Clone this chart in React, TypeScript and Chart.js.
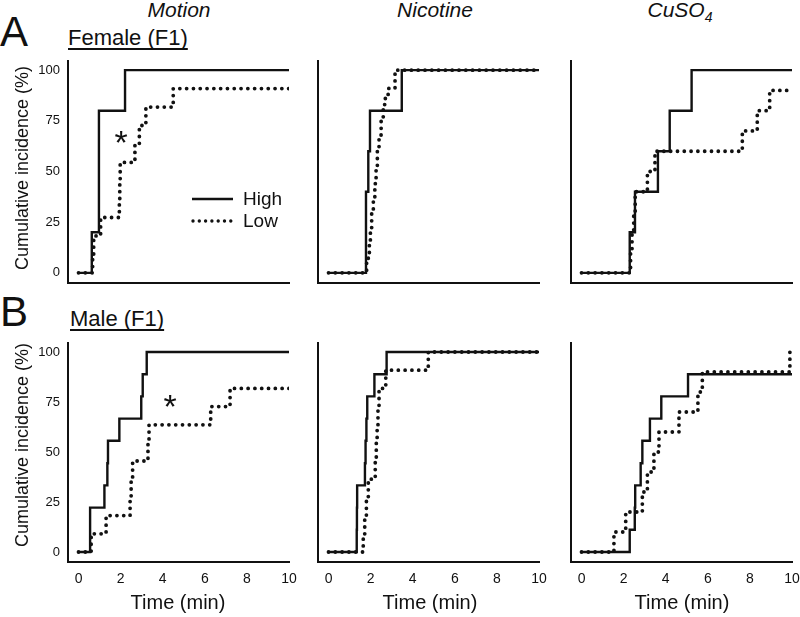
import React, { useEffect, useRef } from "react";
import { Chart, registerables } from "chart.js";

Chart.register(...registerables);

// ---------- data (time in min, cumulative incidence in %) ----------
const xTickValues = [0, 2, 4, 6, 8, 10];
const yTickValues = [0, 25, 50, 75, 100];
const columnTitles = ["Motion", "Nicotine", "CuSO"];
const rowTitles = ["Female (F1)", "Male (F1)"];
const rowLetters = ["A", "B"];
const seriesNames = ["High", "Low"];
const yTitle = "Cumulative incidence (%)";
const xTitle = "Time (min)";

// Female, Motion
const fMotionHighT = [0, 0.63, 0.97, 2.21, 10];
const fMotionHighV = [0, 20, 80, 100, 100];
const fMotionLowT = [0, 0.67, 0.72, 1.05, 1.94, 1.96, 1.98, 2.68, 2.89, 3.2, 4.5, 10];
const fMotionLowV = [0, 9.1, 18.2, 27.3, 36.4, 45.5, 54.5, 63.6, 72.7, 81.8, 90.9, 90.9];

// Female, Nicotine
const fNicHighT = [0, 1.78, 1.89, 1.97, 3.48, 10];
const fNicHighV = [0, 40, 60, 80, 100, 100];
const fNicLowT = [0, 1.81, 1.89, 1.94, 1.99, 2.05, 2.13, 2.2, 2.26, 2.32, 2.4, 2.5, 2.6, 2.7, 2.84, 3.16, 10];
const fNicLowV = [0, 5, 10, 16, 22, 30, 36, 44, 52, 60, 68, 75, 83, 88, 91, 100, 100];

// Female, CuSO4
const fCuHighT = [0, 2.29, 2.54, 3.63, 4.19, 5.23, 10];
const fCuHighV = [0, 20, 40, 60, 80, 100, 100];
const fCuLowT = [0, 2.33, 2.4, 2.48, 2.55, 3.13, 3.49, 7.64, 8.35, 8.94, 10];
const fCuLowV = [0, 10, 20, 30, 40, 50, 60, 70, 80, 90, 90];

// Male, Motion
const mMotionHighT = [0, 0.55, 1.23, 1.37, 1.4, 1.94, 2.98, 3.05, 3.24, 10];
const mMotionHighV = [0, 22.2, 33.3, 44.4, 55.6, 66.7, 77.8, 88.9, 100, 100];
const mMotionLowT = [0, 0.6, 1.31, 2.45, 2.5, 2.57, 3.3, 3.35, 6.28, 7.2, 10];
const mMotionLowV = [0, 9.1, 18.2, 27.3, 36.4, 45.5, 54.5, 63.6, 72.7, 81.8, 81.8];

// Male, Nicotine
const mNicHighT = [0, 1.34, 1.35, 1.36, 1.73, 1.76, 1.8, 1.84, 2.18, 2.76, 10];
const mNicHighV = [0, 11.1, 22.2, 33.3, 44.4, 55.6, 66.7, 77.8, 88.9, 100, 100];
const mNicLowT = [0, 1.65, 1.72, 1.8, 1.89, 2.22, 2.27, 2.31, 2.35, 2.4, 2.72, 4.74, 10];
const mNicLowV = [0, 9.1, 18.2, 27.3, 36.4, 45.5, 54.5, 63.6, 72.7, 81.8, 90.9, 100, 100];

// Male, CuSO4
const mCuHighT = [0, 2.29, 2.53, 2.55, 2.81, 2.89, 3.25, 3.79, 5.06, 10];
const mCuHighV = [0, 11.1, 22.2, 33.3, 44.4, 55.6, 66.7, 77.8, 88.9, 88.9];
const mCuLowT = [0, 1.54, 2.1, 2.89, 3.13, 3.44, 3.68, 4.63, 5.53, 5.74, 9.9];
const mCuLowV = [0, 10, 20, 30, 40, 50, 60, 70, 80, 90, 100];

const FONT = "'Liberation Sans', Arial, Helvetica, sans-serif";
const INK = "#111";

type PanelDef = {
  col: number;
  row: number;
  highT: number[];
  highV: number[];
  lowT: number[];
  lowV: number[];
};

const panels: PanelDef[] = [
  { col: 0, row: 0, highT: fMotionHighT, highV: fMotionHighV, lowT: fMotionLowT, lowV: fMotionLowV },
  { col: 1, row: 0, highT: fNicHighT, highV: fNicHighV, lowT: fNicLowT, lowV: fNicLowV },
  { col: 2, row: 0, highT: fCuHighT, highV: fCuHighV, lowT: fCuLowT, lowV: fCuLowV },
  { col: 0, row: 1, highT: mMotionHighT, highV: mMotionHighV, lowT: mMotionLowT, lowV: mMotionLowV },
  { col: 1, row: 1, highT: mNicHighT, highV: mNicHighV, lowT: mNicLowT, lowV: mNicLowV },
  { col: 2, row: 1, highT: mCuHighT, highV: mCuHighV, lowT: mCuLowT, lowV: mCuLowV },
];

// layout (pixels)
const colLeft = [68, 318, 571];
const plotW = 221;
const rowTop = [60, 342];
const rowH = [223, 220];
const Y_AXIS_W = 40;
const PAD_R = 16;

function toPoints(ts: number[], vs: number[]) {
  return ts.map((t, i) => ({ x: t, y: vs[i] }));
}

function Panel({ def }: { def: PanelDef }) {
  const ref = useRef<HTMLCanvasElement>(null);
  const showX = def.row === 1;
  const showY = def.col === 0;
  const xH = showX ? 36 : 4;
  const w = Y_AXIS_W + plotW + PAD_R;
  const h = rowH[def.row] + xH;

  useEffect(() => {
    if (!ref.current) return;
    const chart = new Chart(ref.current, {
      type: "line",
      data: {
        datasets: [
          {
            label: seriesNames[1],
            data: toPoints(def.lowT, def.lowV),
            stepped: "before",
            borderColor: INK,
            borderWidth: 3.8,
            borderDash: [0, 6.8],
            borderCapStyle: "round",
            pointRadius: 0,
            fill: false,
          },
          {
            label: seriesNames[0],
            data: toPoints(def.highT, def.highV),
            stepped: "before",
            borderColor: INK,
            borderWidth: 2.4,
            pointRadius: 0,
            fill: false,
          },
        ],
      },
      options: {
        responsive: false,
        maintainAspectRatio: false,
        animation: false,
        layout: { padding: { top: 0, left: 0, right: PAD_R, bottom: 0 } },
        plugins: { legend: { display: false }, tooltip: { enabled: false } },
        scales: {
          x: {
            type: "linear",
            min: -0.5,
            max: 10,
            grid: { display: false, drawTicks: false },
            border: { display: true, color: INK, width: 2 },
            ticks: {
              display: showX,
              color: INK,
              padding: 9,
              maxRotation: 0,
              font: { family: FONT, size: 14 },
            },
            afterBuildTicks: (s: any) => {
              s.ticks = xTickValues.map((v) => ({ value: v }));
            },
            afterFit: (s: any) => {
              s.height = xH;
              s.paddingLeft = 0;
              s.paddingRight = 0;
            },
          },
          y: {
            type: "linear",
            min: -5,
            max: 105,
            grid: { display: false, drawTicks: false },
            border: { display: true, color: INK, width: 2 },
            ticks: {
              display: showY,
              color: INK,
              padding: 8,
              font: { family: FONT, size: 13 },
            },
            afterBuildTicks: (s: any) => {
              s.ticks = yTickValues.map((v) => ({ value: v }));
            },
            afterFit: (s: any) => {
              s.width = Y_AXIS_W;
              s.paddingTop = 0;
              s.paddingBottom = 0;
            },
          },
        },
      },
    } as any);
    return () => chart.destroy();
  }, []);

  return (
    <canvas
      ref={ref}
      width={w}
      height={h}
      style={{
        position: "absolute",
        left: colLeft[def.col] - Y_AXIS_W,
        top: rowTop[def.row],
        width: w,
        height: h,
      }}
    />
  );
}

function Txt(props: {
  x: number;
  baseline: number;
  size: number;
  center?: boolean;
  italic?: boolean;
  underline?: boolean;
  children: React.ReactNode;
}) {
  const { x, baseline, size, center, italic, underline, children } = props;
  return (
    <div
      style={{
        position: "absolute",
        left: x,
        top: baseline - 0.8465 * size,
        fontSize: size,
        lineHeight: 1,
        whiteSpace: "nowrap",
        fontStyle: italic ? "italic" : "normal",
        textDecoration: underline ? "underline" : "none",
        textDecorationThickness: underline ? 2 : undefined,
        textUnderlineOffset: underline ? 3 : undefined,
        textDecorationSkipInk: "none",
        transform: center ? "translateX(-50%)" : undefined,
      } as any}
    >
      {children}
    </div>
  );
}

function YTitle({ cy }: { cy: number }) {
  return (
    <div
      style={{
        position: "absolute",
        left: 21.5,
        top: cy,
        fontSize: 18,
        lineHeight: 1,
        whiteSpace: "nowrap",
        transform: "translate(-50%, -50%) rotate(-90deg)",
      }}
    >
      {yTitle}
    </div>
  );
}

export default function App() {
  const titleCenters = [179, 435, 680];
  const xTitleCenters = [178, 430, 682];
  return (
    <div
      style={{
        position: "absolute",
        left: 0,
        top: 0,
        width: 800,
        height: 617,
        background: "#fff",
        color: INK,
        fontFamily: FONT,
        overflow: "hidden",
      }}
    >
      {panels.map((p, i) => (
        <Panel key={i} def={p} />
      ))}

      {/* column titles */}
      <Txt x={titleCenters[0]} baseline={17} size={21} center italic>
        {columnTitles[0]}
      </Txt>
      <Txt x={titleCenters[1]} baseline={17} size={21} center italic>
        {columnTitles[1]}
      </Txt>
      <Txt x={titleCenters[2]} baseline={17} size={21} center italic>
        {columnTitles[2]}
        <span style={{ fontSize: 14, position: "relative", top: 5 }}>4</span>
      </Txt>

      {/* row letters and titles */}
      <Txt x={0} baseline={47} size={42}>
        {rowLetters[0]}
      </Txt>
      <Txt x={0} baseline={327} size={42}>
        {rowLetters[1]}
      </Txt>
      <Txt x={68} baseline={46} size={22} underline>
        {rowTitles[0]}
      </Txt>
      <Txt x={70} baseline={327} size={22} underline>
        {rowTitles[1]}
      </Txt>

      {/* axis titles */}
      <YTitle cy={168} />
      <YTitle cy={445} />
      {xTitleCenters.map((cx, i) => (
        <Txt key={i} x={cx} baseline={609} size={20} center>
          {xTitle}
        </Txt>
      ))}

      {/* significance stars */}
      <Txt x={121} baseline={154} size={34} center>
        *
      </Txt>
      <Txt x={170} baseline={418} size={34} center>
        *
      </Txt>

      {/* legend */}
      <svg
        width={50}
        height={40}
        style={{ position: "absolute", left: 188, top: 190 }}
      >
        <line x1={4} y1={9} x2={45} y2={9} stroke={INK} strokeWidth={2.4} />
        <line
          x1={5}
          y1={31}
          x2={43}
          y2={31}
          stroke={INK}
          strokeWidth={3.4}
          strokeDasharray="0 6.3"
          strokeLinecap="round"
        />
      </svg>
      <Txt x={243} baseline={205} size={19}>
        {seriesNames[0]}
      </Txt>
      <Txt x={243} baseline={227} size={19}>
        {seriesNames[1]}
      </Txt>
    </div>
  );
}
